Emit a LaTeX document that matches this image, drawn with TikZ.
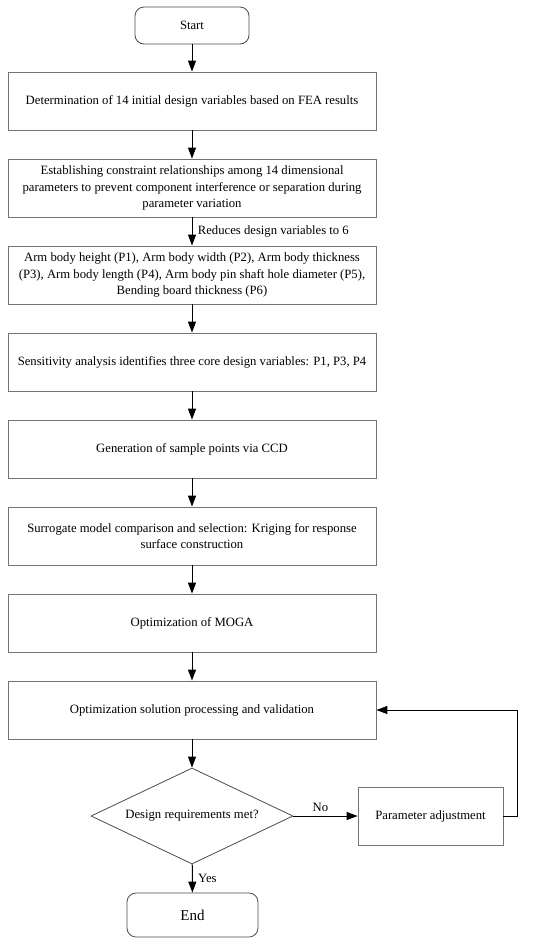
\documentclass[tikz,border=0pt]{standalone}
\usepackage{fontspec}
\setmainfont{Liberation Serif}
\usetikzlibrary{shapes.geometric,arrows.meta}
\begin{document}
\begin{tikzpicture}[x=1pt,y=-1pt,
  box/.style={draw=black!55,line width=0.8pt,minimum width=368pt,minimum height=58pt,align=center,font=\fontsize{12.7}{16.5}\selectfont,inner sep=0pt},
  term/.style={draw=black!70,line width=0.8pt,rounded corners=9pt,align=center,inner sep=0pt},
  dec/.style={draw=black!70,line width=0.8pt,diamond,aspect=2.1,minimum width=202pt,minimum height=96pt,inner sep=0pt,font=\fontsize{12.7}{14}\selectfont},
  arr/.style={draw=black,line width=1pt,-{Triangle[length=11pt,width=8pt]}},
  lbl/.style={font=\fontsize{12.7}{14}\selectfont}]
\useasboundingbox (0,0) rectangle (550,943);
\node[term,minimum width=114pt,minimum height=37pt,font=\fontsize{12.7}{14}\selectfont] (start) at (192,25.5) {Start};
\node[box] (b1) at (192,101) {Determination of 14 initial design variables based on FEA results};
\node[box] (b2) at (192,188) {Establishing constraint relationships among 14 dimensional\\parameters to prevent component interference or separation during\\parameter variation};
\node[box] (b3) at (192,275) {Arm body height (P1), Arm body width (P2), Arm body thickness\\(P3), Arm body length (P4), Arm body pin shaft hole diameter (P5),\\Bending board thickness (P6)};
\node[box] (b4) at (192,362) {Sensitivity analysis identifies three core design variables: P1, P3, P4};
\node[box] (b5) at (192,449) {Generation of sample points via CCD};
\node[box] (b6) at (192,536) {Surrogate model comparison and selection: Kriging for response\\surface construction};
\node[box] (b7) at (192,623) {Optimization of MOGA};
\node[box] (b8) at (192,710) {Optimization solution processing and validation};
\node[dec] (d) at (192,816) {Design requirements met?};
\node[box,minimum width=145pt] (pa) at (430.5,816) {Parameter adjustment};
\node[term,minimum width=131pt,minimum height=44pt,font=\fontsize{15}{17}\selectfont] (end) at (192.5,915) {End};
\draw[arr] (start) -- (b1);
\draw[arr] (b1) -- (b2);
\draw[arr] (b2) -- node[lbl,right,xshift=2pt,anchor=west] (l1) {Reduces design variables to 6} (b3);
\draw[arr] (b3) -- (b4);
\draw[arr] (b4) -- (b5);
\draw[arr] (b5) -- (b6);
\draw[arr] (b6) -- (b7);
\draw[arr] (b7) -- (b8);
\draw[arr] (b8) -- (d);
\draw[arr] (d) -- node[lbl,above,yshift=1pt,xshift=-5pt] (lno) {No} (pa);
\draw[arr] (d) -- node[lbl,right,xshift=2pt,anchor=west] (lyes) {Yes} (end);
\coordinate (c1) at (517,816);
\coordinate (c2) at (517,710);
\draw[arr] (pa.east) -- (c1) -- (c2) -- (b8.east);
\end{tikzpicture}
\end{document}
